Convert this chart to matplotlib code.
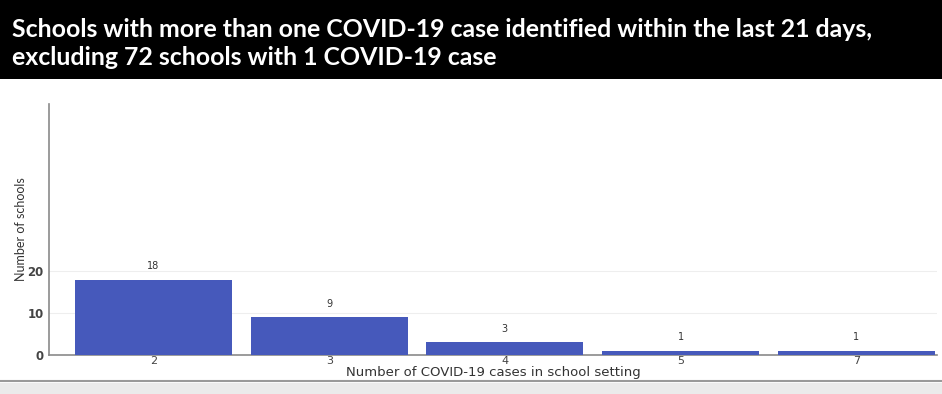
import matplotlib
matplotlib.use("Agg")
import matplotlib.pyplot as plt
from matplotlib.patches import Rectangle
from matplotlib.lines import Line2D

categories = ["2", "3", "4", "5", "7"]
counts = [18, 9, 3, 1, 1]
title_lines = ["Schools with more than one COVID-19 case identified within the last 21 days,",
               "excluding 72 schools with 1 COVID-19 case"]
xlabel = "Number of COVID-19 cases in school setting"
ylabel = "Number of schools"
yticks = [0, 10, 20]

W, H = 942, 394
fig = plt.figure(figsize=(W / 100, H / 100), dpi=100)
fig.patch.set_facecolor("white")

# Title banner
fig.patches.append(Rectangle((0, 1 - 79 / H), 1, 79 / H, transform=fig.transFigure,
                             facecolor="black", edgecolor="none", zorder=0))
title_font = dict(family=["Lato", "DejaVu Sans"], weight="bold", color="white")
t1 = fig.text(12 / W, 1 - 37 / H, title_lines[0], fontsize=18, **title_font)
t2 = fig.text(12 / W, 1 - 65 / H, title_lines[1], fontsize=18, **title_font)
fig.canvas.draw()
r = fig.canvas.get_renderer()
w1 = t1.get_window_extent(r).width
scale = 863 / w1
t1.set_fontsize(18 * scale)
t2.set_fontsize(18 * scale)

# Bottom gray strip
fig.patches.append(Rectangle((0, 0), 1, 11 / H, transform=fig.transFigure,
                             facecolor="#ebebeb", edgecolor="none", zorder=0))
fig.lines.append(Line2D([0, 1], [13 / H, 13 / H], transform=fig.transFigure,
                        color="#9a9a9a", linewidth=1.5))

ax = fig.add_axes([49 / W, 1 - 355 / H, (937 - 49) / W, (355 - 104) / H])
x = list(range(len(categories)))
ax.bar(x, counts, width=0.895, color="#4659bb", zorder=3)
for xi, c in zip(x, counts):
    ax.annotate(str(c), (xi, c), xytext=(0, 6), textcoords="offset points",
                ha="center", va="bottom", fontsize=7, color="#333333")

ax.set_xlim(-0.595, 4.46)
ax.set_ylim(0, 60)
ax.set_xticks(x)
ax.set_xticklabels(categories)
ax.set_yticks(yticks)
ax.grid(axis="y", color="#eeeeee", linewidth=0.8, zorder=0)
ax.set_axisbelow(True)
for s in ["top", "right"]:
    ax.spines[s].set_visible(False)
for s in ["left", "bottom"]:
    ax.spines[s].set_color("#8a8a8a")
    ax.spines[s].set_linewidth(1.2)
ax.tick_params(axis="both", length=0, colors="#444444", labelsize=8.5)
ax.tick_params(axis="x", pad=1, labelsize=8)
ax.tick_params(axis="y", pad=4)
for lab in ax.get_yticklabels():
    lab.set_fontweight("bold")
ax.set_xlabel(xlabel, fontsize=9.5, color="#333333", labelpad=0)
ax.set_ylabel(ylabel, fontsize=9, color="#333333", labelpad=0,
              family=["Lato", "DejaVu Sans"])

fig.savefig("out.png", dpi=100)
